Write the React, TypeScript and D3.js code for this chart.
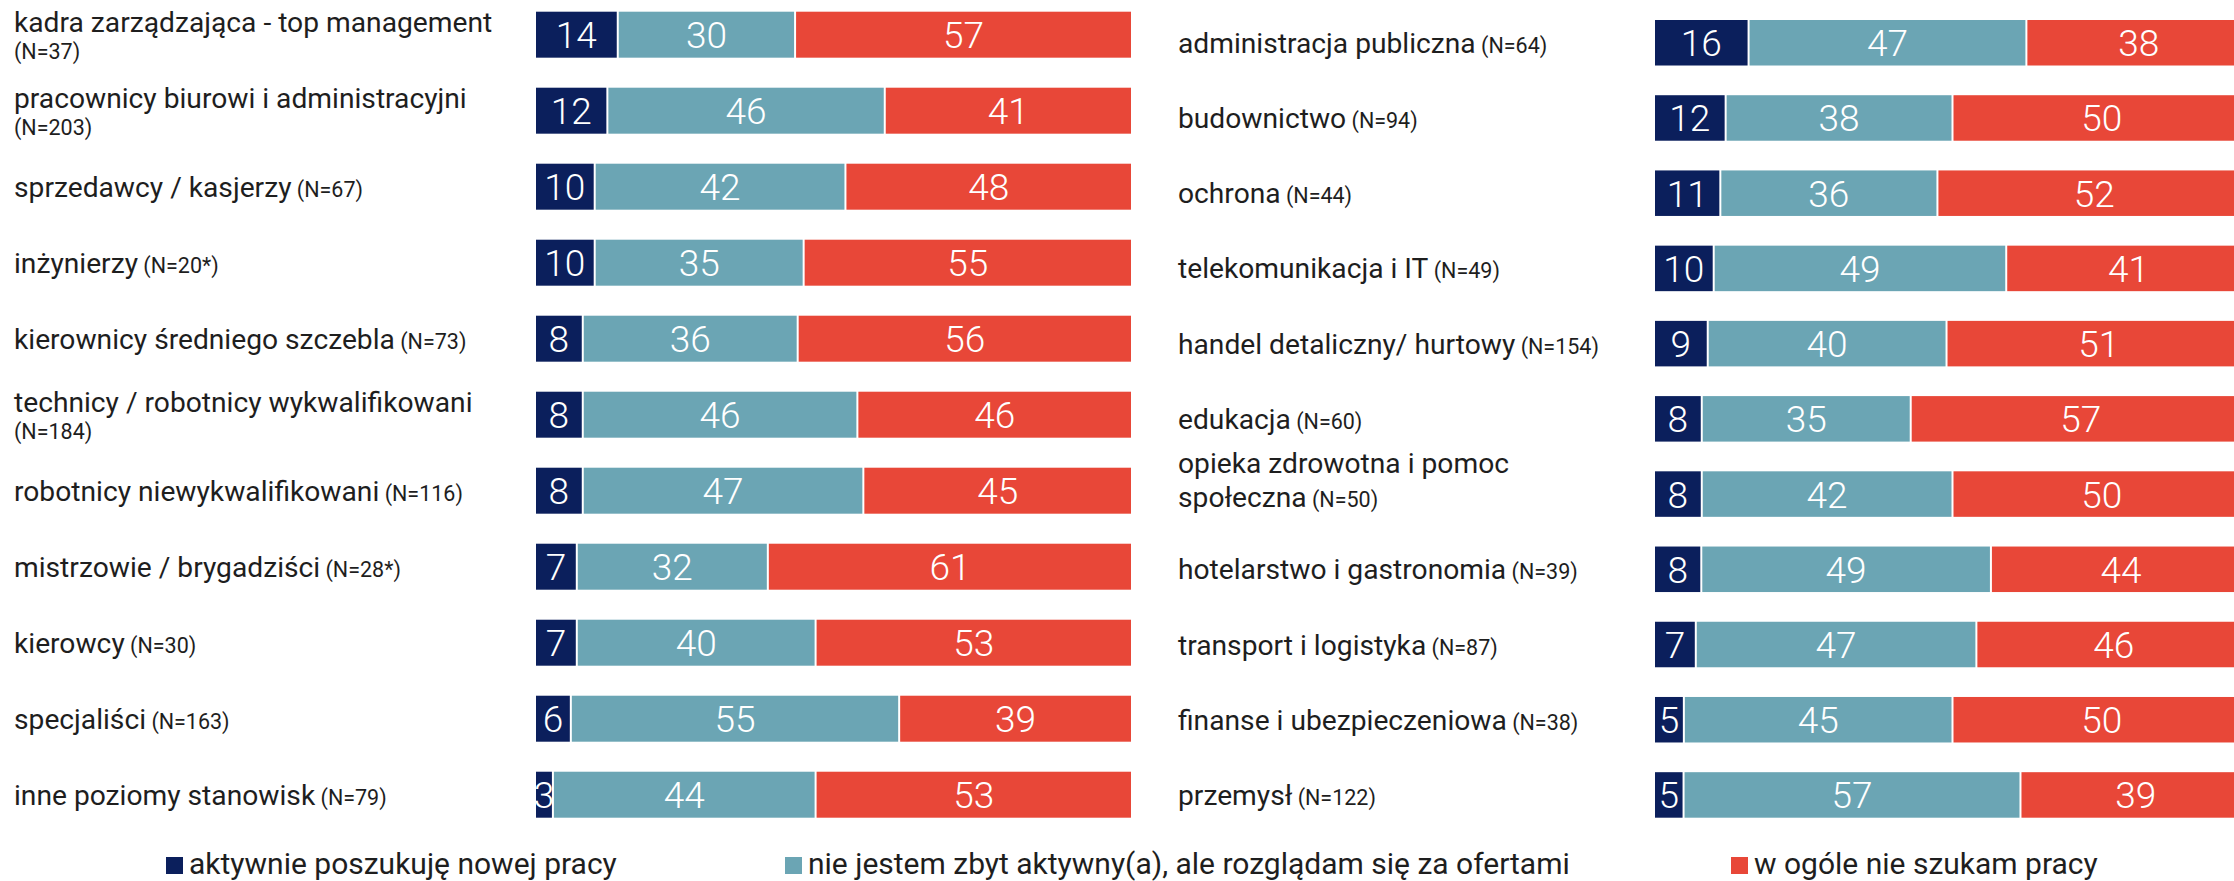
import React from 'react';
import * as d3 from 'd3';

// left panel: job levels
const leftNames = [
  'kadra zarządzająca - top management\n',
  'pracownicy biurowi i administracyjni\n',
  'sprzedawcy / kasjerzy',
  'inżynierzy',
  'kierownicy średniego szczebla',
  'technicy / robotnicy wykwalifikowani\n',
  'robotnicy niewykwalifikowani',
  'mistrzowie / brygadziści',
  'kierowcy',
  'specjaliści',
  'inne poziomy stanowisk',
];
const leftN = ['(N=37)', '(N=203)', '(N=67)', '(N=20*)', '(N=73)', '(N=184)', '(N=116)', '(N=28*)', '(N=30)', '(N=163)', '(N=79)'];
const leftActive = [14, 12, 10, 10, 8, 8, 8, 7, 7, 6, 3];
const leftPassive = [30, 46, 42, 35, 36, 46, 47, 32, 40, 55, 44];
const leftNot = [57, 41, 48, 55, 56, 46, 45, 61, 53, 39, 53];

// right panel: sectors
const rightNames = [
  'administracja publiczna',
  'budownictwo',
  'ochrona',
  'telekomunikacja i IT',
  'handel detaliczny/ hurtowy',
  'edukacja',
  'opieka zdrowotna i pomoc\nspołeczna',
  'hotelarstwo i gastronomia',
  'transport i logistyka',
  'finanse i ubezpieczeniowa',
  'przemysł',
];
const rightN = ['(N=64)', '(N=94)', '(N=44)', '(N=49)', '(N=154)', '(N=60)', '(N=50)', '(N=39)', '(N=87)', '(N=38)', '(N=122)'];
const rightActive = [16, 12, 11, 10, 9, 8, 8, 8, 7, 5, 5];
const rightPassive = [47, 38, 36, 49, 40, 35, 42, 49, 47, 45, 57];
const rightNot = [38, 50, 52, 41, 51, 57, 50, 44, 46, 50, 39];

const legendLabels = [
  'aktywnie poszukuję nowej pracy',
  'nie jestem zbyt aktywny(a), ale rozglądam się za ofertami',
  'w ogóle nie szukam pracy',
];
const colors = ['#0b1f5c', '#6ba5b4', '#e84738'];

const W = 2234;
const H = 881;
const FONT = 'Roboto, sans-serif';
const legendX = [166, 785, 1731];

type PanelProps = {
  names: string[];
  ns: string[];
  series: number[][];
  labelX: number;
  barX: number;
  barW: number;
  top: number;
  bottom: number;
};

const Panel = ({ names, ns, series, labelX, barX, barW, top, bottom }: PanelProps) => {
  const y = d3.scaleBand<string>()
    .domain(names)
    .range([top, bottom])
    .paddingInner(0.395)
    .paddingOuter(0);
  const bh = y.bandwidth();

  return (
    <g>
      {names.map((name, i) => {
        const y0 = y(name) as number;
        const cy = y0 + bh / 2;
        const vals = series.map(s => s[i]);
        const x = d3.scaleLinear().domain([0, d3.sum(vals)]).range([barX, barX + barW]);
        const stacked = d3.cumsum(vals);
        const lines = name.split('\n');
        const twoLines = lines.length > 1;
        const mainSecond = twoLines && lines[1].length > 0;
        const baselines = !twoLines ? [cy + 10] : mainSecond ? [cy - 21, cy + 12.5] : [cy - 3, cy + 24];

        return (
          <g key={name}>
            <text fontFamily={FONT} fill="#1e1e1e" fontSize={28.2}>
              {lines.map((ln, k) => (
                <tspan key={k} x={labelX} y={baselines[k]}>
                  {ln}
                  {k === lines.length - 1 && (
                    <tspan fontSize={21.5}>{ln.length ? ' ' : ''}{ns[i]}</tspan>
                  )}
                </tspan>
              ))}
            </text>
            {vals.map((v, j) => {
              const x0 = x(j === 0 ? 0 : stacked[j - 1]);
              const x1 = x(stacked[j]);
              return (
                <g key={j}>
                  <rect x={x0} y={y0} width={Math.max(0, x1 - x0 - 2)} height={bh} fill={colors[j]} />
                  <text
                    x={(x0 + x1 - 2) / 2}
                    y={cy + 13.5}
                    textAnchor="middle"
                    fontFamily={FONT}
                    fontWeight={300}
                    fontSize={37}
                    fill="#fff"
                  >
                    {v}
                  </text>
                </g>
              );
            })}
          </g>
        );
      })}
    </g>
  );
};

export default function App() {
  return (
    <svg
      width={W}
      height={H}
      style={{ position: 'absolute', left: 0, top: 0, display: 'block', background: '#fff' }}
    >
      <Panel
        names={leftNames}
        ns={leftN}
        series={[leftActive, leftPassive, leftNot]}
        labelX={14}
        barX={536}
        barW={597}
        top={11.7}
        bottom={817.7}
      />
      <Panel
        names={rightNames}
        ns={rightN}
        series={[rightActive, rightPassive, rightNot]}
        labelX={1178}
        barX={1655}
        barW={597}
        top={20}
        bottom={817.7}
      />
      {legendLabels.map((l, i) => (
        <g key={l}>
          <rect x={legendX[i]} y={857} width={17} height={17} fill={colors[i]} />
          <text x={legendX[i] + 23} y={874} fontFamily={FONT} fontSize={30} fill="#1e1e1e">
            {l}
          </text>
        </g>
      ))}
    </svg>
  );
}
